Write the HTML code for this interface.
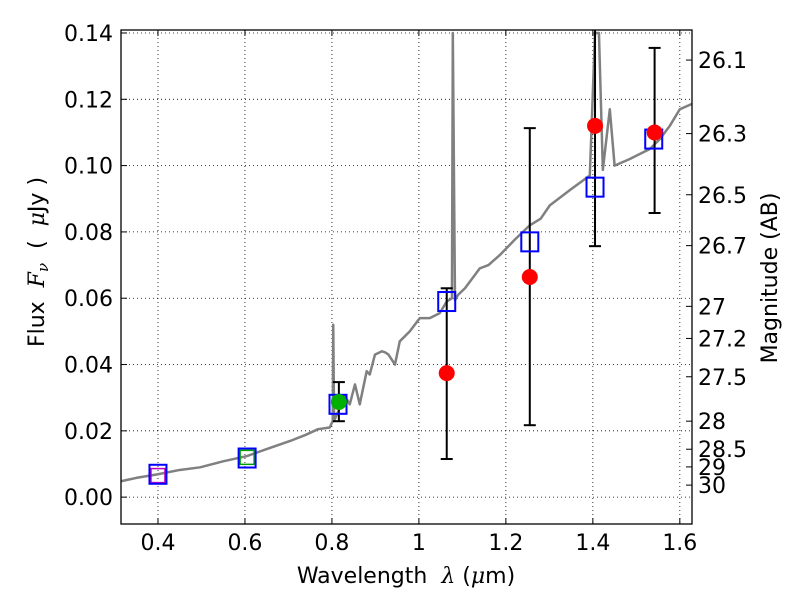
<!DOCTYPE html>
<html><head><meta charset="utf-8"><style>
body{margin:0;background:#fff;overflow:hidden;}
svg{display:block;font-family:"DejaVu Sans","Liberation Sans",sans-serif;}
</style></head><body>
<svg id="chart" width="800" height="600">
<text transform="translate(44,262) rotate(-90)" font-size="22" text-anchor="middle" xml:space="preserve">Flux  <tspan font-style="italic" font-family="DejaVu Serif, serif">F</tspan><tspan font-style="italic" font-size="15" dy="4" font-family="DejaVu Serif, serif">ν</tspan><tspan dy="-4">  (  </tspan><tspan font-style="italic" font-family="DejaVu Serif, serif">μ</tspan>Jy )</text>
<text transform="translate(777,278) rotate(-90)" font-size="22" text-anchor="middle">Magnitude (AB)</text>
<text x="406" y="583" font-size="22" text-anchor="middle" xml:space="preserve">Wavelength  <tspan font-style="italic" font-family="DejaVu Serif, serif">λ</tspan> (<tspan font-style="italic" font-family="DejaVu Serif, serif">μ</tspan>m)</text>
</svg>
<script>
const specX=[0.315,0.35,0.4,0.45,0.497,0.55,0.605,0.65,0.703,0.74,0.768,0.795,0.802,0.803,0.805,0.83,0.841,0.853,0.864,0.88,0.887,0.899,0.915,0.922,0.93,0.945,0.956,0.979,1.002,1.025,1.048,1.064,1.076,1.078,1.083,1.09,1.106,1.14,1.16,1.186,1.22,1.255,1.28,1.301,1.347,1.393,1.405,1.414,1.423,1.439,1.45,1.485,1.531,1.554,1.577,1.6,1.628];
const specY=[0.0048,0.0058,0.0069,0.0082,0.009,0.0108,0.0124,0.0145,0.0169,0.0188,0.0205,0.021,0.023,0.052,0.023,0.0305,0.028,0.034,0.028,0.038,0.037,0.043,0.044,0.0437,0.043,0.04,0.047,0.05,0.054,0.054,0.0555,0.059,0.06,0.14,0.0594,0.061,0.063,0.069,0.07,0.073,0.0776,0.082,0.084,0.088,0.0926,0.097,0.14,0.14,0.0987,0.117,0.1,0.102,0.105,0.108,0.112,0.117,0.1186];
const modelX=[0.4,0.605,0.814,1.064,1.255,1.405,1.54];
const modelY=[0.0069,0.0118,0.028,0.059,0.077,0.0935,0.108];
const obsX=[1.064,1.255,1.405,1.542];
const obsY=[0.0374,0.0664,0.112,0.110];
const obsLo=[0.0115,0.0217,0.0757,0.0857];
const obsHi=[0.063,0.1113,0.16,0.1355];
const gX=[0.816], gY=[0.0287], gLo=[0.0229], gHi=[0.0347];
const xTicks=[0.4,0.6,0.8,1.0,1.2,1.4,1.6];
const xLabels=["0.4","0.6","0.8","1","1.2","1.4","1.6"];
const yTicks=[0,0.02,0.04,0.06,0.08,0.10,0.12,0.14];
const yLabels=["0.00","0.02","0.04","0.06","0.08","0.10","0.12","0.14"];
const magTicks=[26.1,26.3,26.5,26.7,27,27.2,27.5,28,28.5,29,30];
const magLabels=["26.1","26.3","26.5","26.7","27","27.2","27.5","28","28.5","29","30"];

const L=121,R=692,T=30,B=524,xmin=0.315,xmax=1.628,ymin=-0.0081,ymax=0.1409;
const X=v=>L+(v-xmin)/(xmax-xmin)*(R-L);
const Y=v=>B-(v-ymin)/(ymax-ymin)*(B-T);
const svg=document.getElementById('chart');
const NS="http://www.w3.org/2000/svg";
function mk(tag,attrs,parent){const e=document.createElementNS(NS,tag);for(const k in attrs)e.setAttribute(k,attrs[k]);(parent||svg).appendChild(e);return e;}
const defs=mk('defs',{});const cp=mk('clipPath',{id:'clip'},defs);mk('rect',{x:L,y:T,width:R-L,height:B-T},cp);
const plot=mk('g',{'clip-path':'url(#clip)'});


xTicks.forEach(v=>{const g=mk('line',{x1:X(v),x2:X(v),y1:T,y2:B,stroke:'#000','stroke-width':0.8,'stroke-dasharray':'1,3'},plot);

});
yTicks.forEach(v=>{const g=mk('line',{x1:L,x2:R,y1:Y(v),y2:Y(v),stroke:'#000','stroke-width':0.8,'stroke-dasharray':'1,3'},plot);

});
const sp=mk('polyline',{points:specX.map((x,i)=>X(x)+','+Y(specY[i])).join(' '),fill:'none',stroke:'#808080','stroke-width':2.5,'stroke-linejoin':'round'},plot);


const mg=mk('rect',{x:X(0.4)-7,y:Y(0.0065)-7,width:14,height:14,fill:'none',stroke:'#c000c0','stroke-width':1.5},plot);


const gs=mk('rect',{x:X(0.605)-7,y:Y(0.012)-7,width:14,height:14,fill:'none',stroke:'#00a000','stroke-width':1.5},plot);


function ebar(x,lo,hi,name){const g=mk('g',{},plot);


mk('line',{x1:X(x),x2:X(x),y1:Y(lo),y2:Y(hi),stroke:'#000','stroke-width':2},g);
mk('line',{x1:X(x)-6,x2:X(x)+6,y1:Y(lo),y2:Y(lo),stroke:'#000','stroke-width':2},g);
mk('line',{x1:X(x)-6,x2:X(x)+6,y1:Y(hi),y2:Y(hi),stroke:'#000','stroke-width':2},g);}
obsX.forEach((x,i)=>ebar(x,obsLo[i],obsHi[i],'obs-error-bar'));
gX.forEach((x,i)=>ebar(x,gLo[i],gHi[i],'green-error-bar'));
modelX.forEach((x,i)=>{const r=mk('rect',{x:X(x)-8.5,y:Y(modelY[i])-9.5,width:17,height:19,fill:'none',stroke:'#0000ff','stroke-width':2},plot);

});
obsX.forEach((x,i)=>{const c=mk('circle',{cx:X(x),cy:Y(obsY[i]),r:8,fill:'#ff0000'},plot);

});
gX.forEach((x,i)=>{const c=mk('circle',{cx:X(x),cy:Y(gY[i]),r:8,fill:'#00b000'},plot);

});
const fr=mk('rect',{x:L,y:T,width:R-L,height:B-T,fill:'none',stroke:'#000','stroke-width':1.3});


xTicks.forEach((v,i)=>{mk('line',{x1:X(v),x2:X(v),y1:B,y2:B-6,stroke:'#000'});mk('line',{x1:X(v),x2:X(v),y1:T,y2:T+6,stroke:'#000'});
const t=mk('text',{x:X(v),y:B+26,'font-size':22,'text-anchor':'middle'});t.textContent=xLabels[i];

});
yTicks.forEach((v,i)=>{mk('line',{x1:L,x2:L+6,y1:Y(v),y2:Y(v),stroke:'#000'});
const t=mk('text',{x:L-8,y:Y(v)+8,'font-size':22,'text-anchor':'end'});t.textContent=yLabels[i];

});
const magY=m=>Y(3631e6*Math.pow(10,-0.4*m));
magTicks.forEach((m,i)=>{mk('line',{x1:R,x2:R-6,y1:magY(m),y2:magY(m),stroke:'#000'});
const t=mk('text',{x:R+6,y:magY(m)+8,'font-size':22});t.textContent=magLabels[i];

});
</script>
</body></html>
